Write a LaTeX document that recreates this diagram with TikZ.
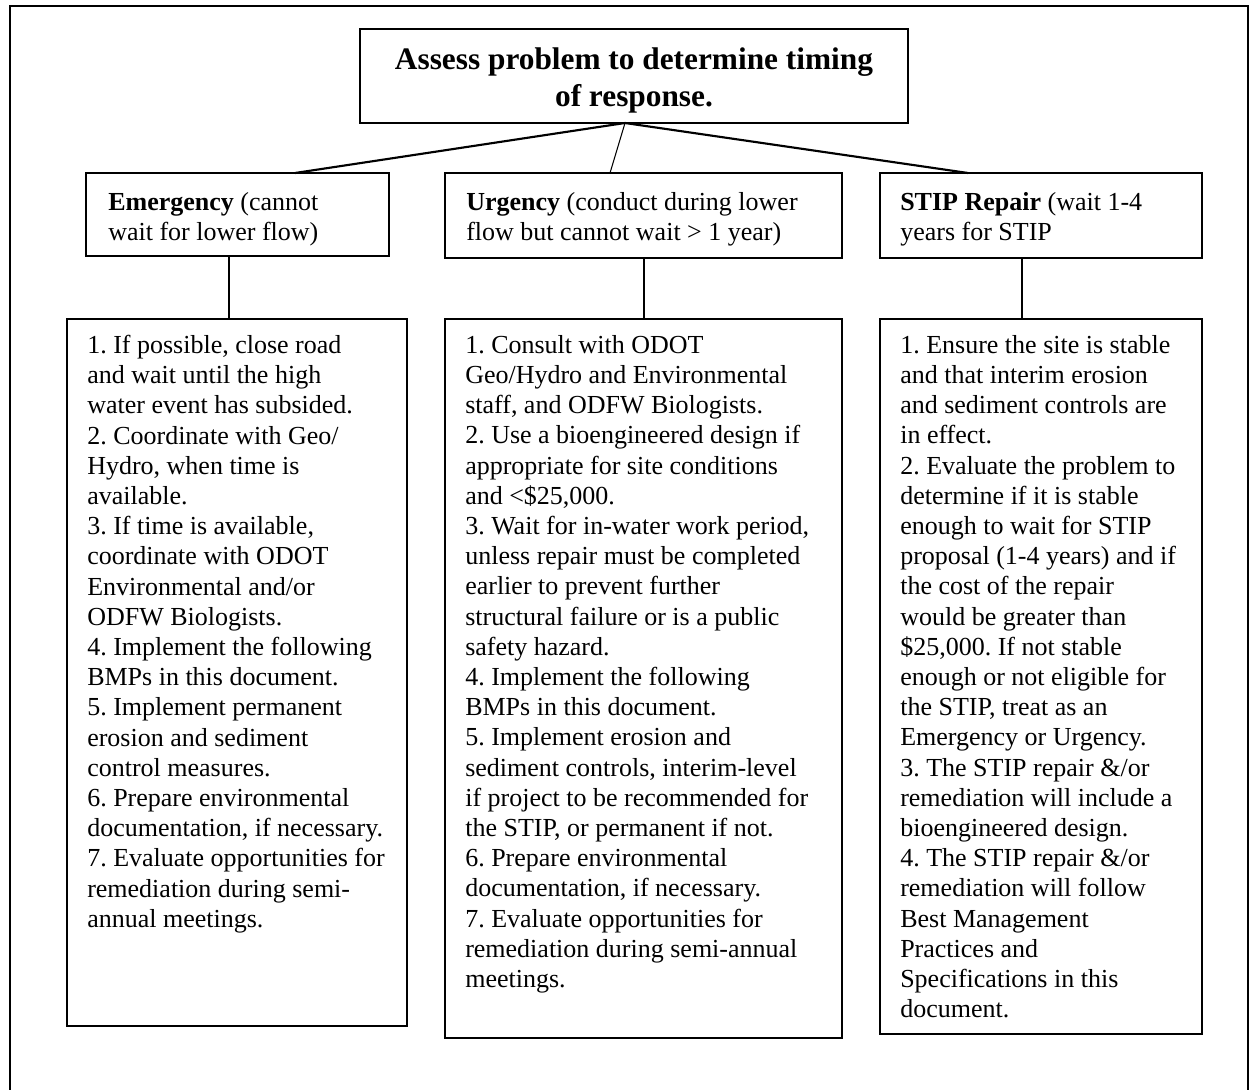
\documentclass[tikz,border=0pt]{standalone}
\usepackage{fontspec}
\setmainfont{Liberation Serif}
\usetikzlibrary{fit}
\newcommand{\bodyfnt}{\fontsize{19.5}{22.65}\selectfont\frenchspacing}
\newcommand{\topfnt}{\fontsize{23.5}{27.75}\selectfont\bfseries\frenchspacing}
\tikzset{
  boxnode/.style={draw, line width=1.2pt, inner sep=0pt},
  frameline/.style={line width=1.1pt},
  txt/.style={anchor=north west, align=left, inner sep=0pt, font=\bodyfnt},
  thickcon/.style={line width=1.6pt},
  thincon/.style={line width=0.8pt}
}
\begin{document}
\begin{tikzpicture}[x=0.75pt,y=-0.75pt]
\clip (0,0) rectangle (1249,1089);
\fill[white] (0,0) rectangle (1249,1089);
% outer frame
\draw[frameline] (10,1100) -- (10,6) -- (1248,6) -- (1248,1100);
% top box
\node[boxnode, fit={(360,29)(908,123)}] (top) {};
\node[anchor=north, align=center, inner sep=0pt, font=\topfnt] (toptxt) at (634,47)
  {Assess problem to determine timing\\of response.};
% middle boxes
\node[boxnode, fit={(86,173)(389,256)}] (em) {};
\node[boxnode, fit={(445,173)(842,258)}] (ur) {};
\node[boxnode, fit={(880,173)(1202,258)}] (st) {};
\node[txt] (emh) at (108,192) {\textbf{Emergency} (cannot\\wait for lower flow)};
\node[txt] (urh) at (466,192) {\textbf{Urgency} (conduct during lower\\flow but cannot wait > 1 year)};
\node[txt] (sth) at (900,192) {\textbf{STIP Repair} (wait 1-4\\years for STIP};
% bottom boxes
\node[boxnode, fit={(67,319)(407,1026)}] (emb) {};
\node[boxnode, fit={(445,319)(842,1038)}] (urb) {};
\node[boxnode, fit={(880,319)(1202,1034)}] (stb) {};
% connectors
\coordinate (j) at (625,123);
\coordinate (emt) at (295,173);
\coordinate (urt) at (610,173);
\coordinate (stt) at (968,173);
\draw[thickcon] (j) -- (emt);
\draw[thincon] (j) -- (urt);
\draw[thickcon] (j) -- (stt);
\coordinate (ema) at (229,256);
\coordinate (emz) at (229,319);
\coordinate (ura) at (644,258);
\coordinate (urz) at (644,319);
\coordinate (sta) at (1022,258);
\coordinate (stz) at (1022,319);
\draw[thincon] (ema) -- (emz);
\draw[thincon] (ura) -- (urz);
\draw[thincon] (sta) -- (stz);
% texts
\node[txt] (embt) at (87,335) {1. If possible, close road\\
and wait until the high\\
water event has subsided.\\
2. Coordinate with Geo/\\
Hydro, when time is\\
available.\\
3. If time is available,\\
coordinate with ODOT\\
Environmental and/or\\
ODFW Biologists.\\
4. Implement the following\\
BMPs in this document.\\
5. Implement permanent\\
erosion and sediment\\
control measures.\\
6. Prepare environmental\\
documentation, if necessary.\\
7. Evaluate opportunities for\\
remediation during semi-\\
annual meetings.};
\node[txt] (urbt) at (465,335) {1. Consult with ODOT\\
Geo/Hydro and Environmental\\
staff, and ODFW Biologists.\\
2. Use a bioengineered design if\\
appropriate for site conditions\\
and <\$25,000.\\
3. Wait for in-water work period,\\
unless repair must be completed\\
earlier to prevent further\\
structural failure or is a public\\
safety hazard.\\
4. Implement the following\\
BMPs in this document.\\
5. Implement erosion and\\
sediment controls, interim-level\\
if project to be recommended for\\
the STIP, or permanent if not.\\
6. Prepare environmental\\
documentation, if necessary.\\
7. Evaluate opportunities for\\
remediation during semi-annual\\
meetings.};
\node[txt] (stbt) at (900,335) {1. Ensure the site is stable\\
and that interim erosion\\
and sediment controls are\\
in effect.\\
2. Evaluate the problem to\\
determine if it is stable\\
enough to wait for STIP\\
proposal (1-4 years) and if\\
the cost of the repair\\
would be greater than\\
\$25,000. If not stable\\
enough or not eligible for\\
the STIP, treat as an\\
Emergency or Urgency.\\
3. The STIP repair \&/or\\
remediation will include a\\
bioengineered design.\\
4. The STIP repair \&/or\\
remediation will follow\\
Best Management\\
Practices and\\
Specifications in this\\
document.};
\end{tikzpicture}
\end{document}
